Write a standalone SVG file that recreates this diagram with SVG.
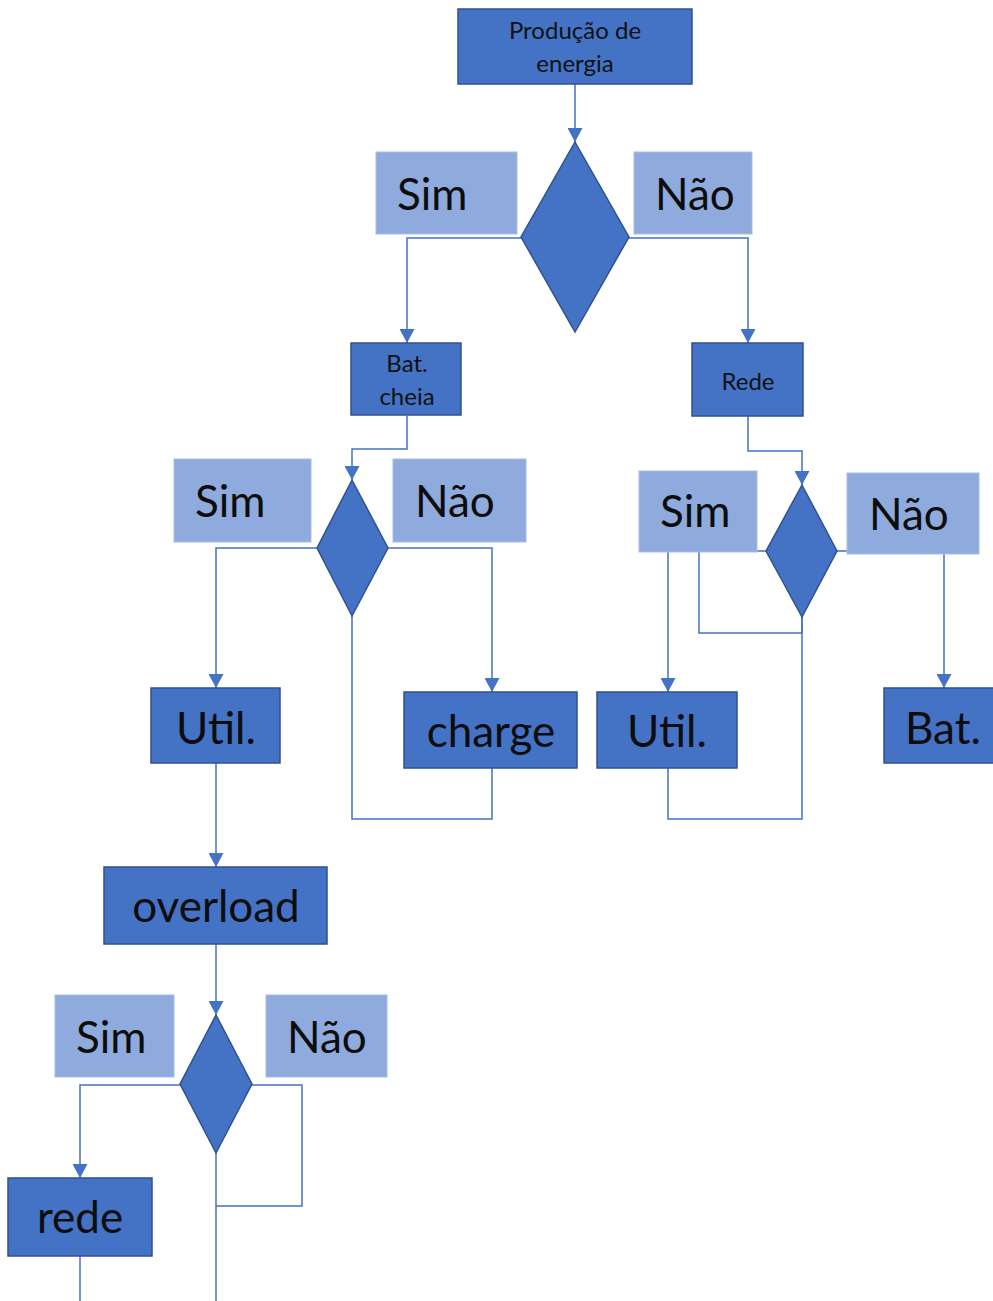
<svg xmlns="http://www.w3.org/2000/svg" width="993" height="1301" viewBox="0 0 993 1301">
<defs>
<marker id="arr" markerUnits="userSpaceOnUse" markerWidth="15" markerHeight="15" refX="14" refY="7.5" orient="auto"><path d="M0,0 L14,7.5 L0,15 z" fill="#4472c4"/></marker>
<style>
.c{fill:none;stroke:#4472c4;stroke-width:1.5}
.n{fill:#4472c4;stroke:#2f528f;stroke-width:1.5}
.l{fill:#8faadc;stroke:#a9bde5;stroke-width:1}
.s{font-family:Lato,"Open Sans",sans-serif;font-size:24px;fill:#111;text-anchor:middle}
.b{font-family:Lato,"Open Sans",sans-serif;font-size:44px;fill:#0d0d0d}
.m{text-anchor:middle}
</style>
</defs>
<rect width="993" height="1301" fill="#fff"/>
<g id="connectors">
<path class="c" d="M575,84 V142" marker-end="url(#arr)"/>
<path class="c" d="M521,238 H407 V343" marker-end="url(#arr)"/>
<path class="c" d="M629,238 H748 V343" marker-end="url(#arr)"/>
<path class="c" d="M407,416 V449 H352 V480" marker-end="url(#arr)"/>
<path class="c" d="M748,416 V451 H802 V485" marker-end="url(#arr)"/>
<path class="c" d="M317,548 H216 V688" marker-end="url(#arr)"/>
<path class="c" d="M388,548 H492 V692" marker-end="url(#arr)"/>
<path class="c" d="M492,768 V819 H352 V616"/>
<path class="c" d="M766,551 H668 V692" marker-end="url(#arr)"/>
<path class="c" d="M802,617 V633 H699 V551"/>
<path class="c" d="M668,768 V819 H802 V617"/>
<path class="c" d="M837,551 H944 V688" marker-end="url(#arr)"/>
<path class="c" d="M216,763 V867" marker-end="url(#arr)"/>
<path class="c" d="M216,944 V1015" marker-end="url(#arr)"/>
<path class="c" d="M180,1085 H80 V1178" marker-end="url(#arr)"/>
<path class="c" d="M252,1085 H302 V1206 H216"/>
<path class="c" d="M216,1153 V1301"/>
<path class="c" d="M80,1256 V1301"/>
</g>
<g id="producao"><rect class="n" x="458" y="9" width="234" height="75"/><text class="s" x="575" y="39">Produção de</text><text class="s" x="575" y="72">energia</text></g>
<g id="decisao1"><polygon class="n" points="575,142 629,237 575,332 521,237"/></g>
<g id="sim1"><rect class="l" x="376" y="152" width="141" height="82"/><text class="b" x="397" y="210">Sim</text></g>
<g id="nao1"><rect class="l" x="634" y="152" width="118" height="82"/><text class="b" x="655" y="210">Não</text></g>
<g id="batcheia"><rect class="n" x="351" y="343" width="110" height="72"/><text class="s" x="407" y="372">Bat.</text><text class="s" x="407" y="405">cheia</text></g>
<g id="rede1"><rect class="n" x="692" y="343" width="111" height="73"/><text class="s" x="748" y="390">Rede</text></g>
<g id="decisao2"><polygon class="n" points="352,480 388,548 352,616 317,548"/></g>
<g id="sim2"><rect class="l" x="174" y="459" width="137" height="83"/><text class="b" x="195" y="517">Sim</text></g>
<g id="nao2"><rect class="l" x="393" y="459" width="133" height="83"/><text class="b" x="415" y="517">Não</text></g>
<g id="decisao3"><polygon class="n" points="802,485 837,551 802,617 766,551"/></g>
<g id="sim3"><rect class="l" x="639" y="471" width="118" height="81"/><text class="b" x="660" y="527">Sim</text></g>
<g id="nao3"><rect class="l" x="847" y="473" width="132" height="81"/><text class="b" x="869" y="530">Não</text></g>
<g id="util1"><rect class="n" x="151" y="688" width="129" height="75"/><text class="b m" x="216" y="744">Util.</text></g>
<g id="charge"><rect class="n" x="404" y="692" width="173" height="76"/><text class="b m" x="491" y="747">charge</text></g>
<g id="util2"><rect class="n" x="597" y="692" width="140" height="76"/><text class="b m" x="667" y="747">Util.</text></g>
<g id="bat"><rect class="n" x="884" y="688" width="115" height="75"/><text class="b" x="905" y="744">Bat.</text></g>
<g id="overload"><rect class="n" x="104" y="867" width="223" height="77"/><text class="b m" x="216" y="922">overload</text></g>
<g id="decisao4"><polygon class="n" points="216,1015 252,1084 216,1153 180,1084"/></g>
<g id="sim4"><rect class="l" x="55" y="995" width="119" height="82"/><text class="b" x="76" y="1053">Sim</text></g>
<g id="nao4"><rect class="l" x="266" y="995" width="121" height="82"/><text class="b" x="287" y="1053">Não</text></g>
<g id="rede2"><rect class="n" x="8" y="1178" width="144" height="78"/><text class="b m" x="80" y="1233">rede</text></g>
</svg>
